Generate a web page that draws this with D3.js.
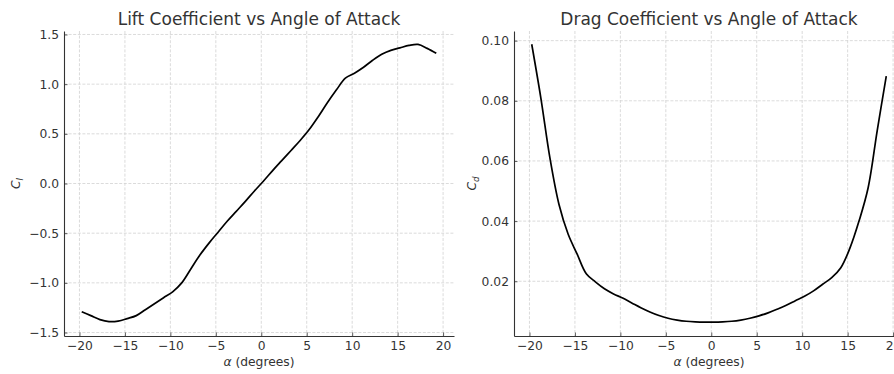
<!DOCTYPE html>
<html>
<head>
<meta charset="utf-8">
<script src="https://cdn.jsdelivr.net/npm/d3@7"></script>
<style>
  html, body { margin: 0; padding: 0; background: #fff; overflow: hidden; }
  svg { display: block; font-family: "DejaVu Sans", sans-serif; }
</style>
</head>
<body>
<svg id="chart" width="894" height="374"></svg>
<script>
// Angle of attack samples (degrees)
const alpha = [
  -19.75, -18.75, -17.75, -16.75, -15.75, -14.75, -13.75, -12.75, -11.75, -10.75,
  -9.75, -8.75, -7.75, -6.75, -5.75, -4.75, -3.75, -2.75, -1.75, -0.75,
  0.25, 1.25, 2.25, 3.25, 4.25, 5.25, 6.25, 7.25, 8.25, 9.25,
  10.25, 11.25, 12.25, 13.25, 14.25, 15.25, 16.25, 17.25, 18.25, 19.25
];

// Lift coefficient C_l
const liftCoeff = [
  -1.29, -1.33, -1.37, -1.39, -1.385, -1.36, -1.33, -1.27, -1.21, -1.15,
  -1.09, -1.00, -0.86, -0.72, -0.60, -0.49, -0.38, -0.28, -0.18, -0.075,
  0.025, 0.13, 0.23, 0.33, 0.43, 0.54, 0.67, 0.81, 0.94, 1.06,
  1.11, 1.17, 1.24, 1.30, 1.34, 1.365, 1.39, 1.40, 1.36, 1.31
];

// Drag coefficient C_d
const dragCoeff = [
  0.0988, 0.081, 0.061, 0.0455, 0.0357, 0.029, 0.0225, 0.0198, 0.0175, 0.0158,
  0.0144, 0.0128, 0.0112, 0.0098, 0.0086, 0.0077, 0.0071, 0.0067, 0.0065, 0.0064,
  0.0064, 0.0065, 0.0067, 0.0071, 0.0077, 0.0085, 0.0095, 0.0107, 0.0120, 0.0135,
  0.0150, 0.0168, 0.0190, 0.0212, 0.0245, 0.031, 0.040, 0.051, 0.070, 0.0882
];

// Tick values
const alphaTicks = [-20, -15, -10, -5, 0, 5, 10, 15, 20];
const liftTicks = [-1.5, -1.0, -0.5, 0.0, 0.5, 1.0, 1.5];
const dragTicks = [0.02, 0.04, 0.06, 0.08, 0.10];

const svg = d3.select("#chart");
const textColor = "#333333";
const spineColor = "#333333";
const gridColor = "#d2d2d2";
const tickFont = 12.3;

function panel(opts) {
  const { x0, x1, y0, y1, xDomain, yDomain, yTicks, yFmt, values, title, ylabelSub, ylabelX } = opts;
  const x = d3.scaleLinear().domain(xDomain).range([x0, x1]);
  const y = d3.scaleLinear().domain(yDomain).range([y1, y0]);
  const g = svg.append("g");

  // dashed grid
  const grid = g.append("g");
  grid.selectAll("line.vx").data(alphaTicks.filter(t => x(t) <= x1)).join("line")
    .attr("x1", d => x(d)).attr("x2", d => x(d))
    .attr("y1", y0).attr("y2", y1)
    .attr("stroke", gridColor).attr("stroke-width", 0.8)
    .attr("stroke-dasharray", "3,1.6");
  grid.selectAll("line.hy").data(yTicks).join("line")
    .attr("x1", x0).attr("x2", x1)
    .attr("y1", d => y(d)).attr("y2", d => y(d))
    .attr("stroke", gridColor).attr("stroke-width", 0.8)
    .attr("stroke-dasharray", "3,1.6");

  // axes: inward ticks
  const xAxis = d3.axisBottom(x).tickValues(alphaTicks)
    .tickFormat(d => d < 0 ? "\u2212" + Math.abs(d) : String(d))
    .tickSizeInner(-3.5).tickSizeOuter(0).tickPadding(5);
  const gx = g.append("g").attr("transform", `translate(0,${y1})`).call(xAxis);
  const yAxis = d3.axisLeft(y).tickValues(yTicks)
    .tickFormat(yFmt)
    .tickSizeInner(-3.5).tickSizeOuter(0).tickPadding(5);
  const gy = g.append("g").attr("transform", `translate(${x0},0)`).call(yAxis);
  [gx, gy].forEach(a => {
    a.select(".domain").attr("stroke", spineColor).attr("stroke-width", 1.1);
    a.selectAll(".tick line").attr("stroke", spineColor).attr("stroke-width", 0.8);
    a.selectAll(".tick text").attr("fill", textColor)
      .attr("font-size", tickFont).attr("font-family", "DejaVu Sans");
  });

  // curve
  const line = d3.line()
    .x((d, i) => x(alpha[i]))
    .y(d => y(d))
    .curve(d3.curveCatmullRom.alpha(0.5));
  g.append("path").datum(values)
    .attr("d", line)
    .attr("fill", "none")
    .attr("stroke", "#000")
    .attr("stroke-width", 1.7)
    .attr("stroke-linejoin", "round");

  // title
  g.append("text")
    .attr("x", (x0 + x1) / 2).attr("y", 25)
    .attr("text-anchor", "middle")
    .attr("font-size", 17).attr("fill", textColor)
    .text(title);

  // x label
  const xl = g.append("text")
    .attr("x", (x0 + x1) / 2).attr("y", 366)
    .attr("text-anchor", "middle")
    .attr("font-size", tickFont).attr("fill", textColor);
  xl.append("tspan").attr("font-style", "italic").text("\u03b1");
  xl.append("tspan").text(" (degrees)");

  // y label
  const yl = g.append("text")
    .attr("transform", `translate(${ylabelX},${(y0 + y1) / 2}) rotate(-90)`)
    .attr("text-anchor", "middle")
    .attr("font-size", tickFont).attr("fill", textColor);
  yl.append("tspan").attr("font-style", "italic").text("C");
  yl.append("tspan").attr("font-style", "italic").attr("font-size", 8.8)
    .attr("dy", 3).text(ylabelSub);
}

panel({
  x0: 64, x1: 454, y0: 31, y1: 336,
  xDomain: [-21.7, 21.2], yDomain: [-1.535, 1.535],
  yTicks: liftTicks,
  yFmt: d => (d < 0 ? "\u2212" : "") + Math.abs(d).toFixed(1),
  values: liftCoeff,
  title: "Lift Coefficient vs Angle of Attack",
  ylabelSub: "l", ylabelX: 20
});

panel({
  x0: 514, x1: 904, y0: 31, y1: 336,
  xDomain: [-21.7, 21.2], yDomain: [0.0018, 0.1032],
  yTicks: dragTicks,
  yFmt: d => d.toFixed(2),
  values: dragCoeff,
  title: "Drag Coefficient vs Angle of Attack",
  ylabelSub: "d", ylabelX: 476
});
</script>
</body>
</html>
